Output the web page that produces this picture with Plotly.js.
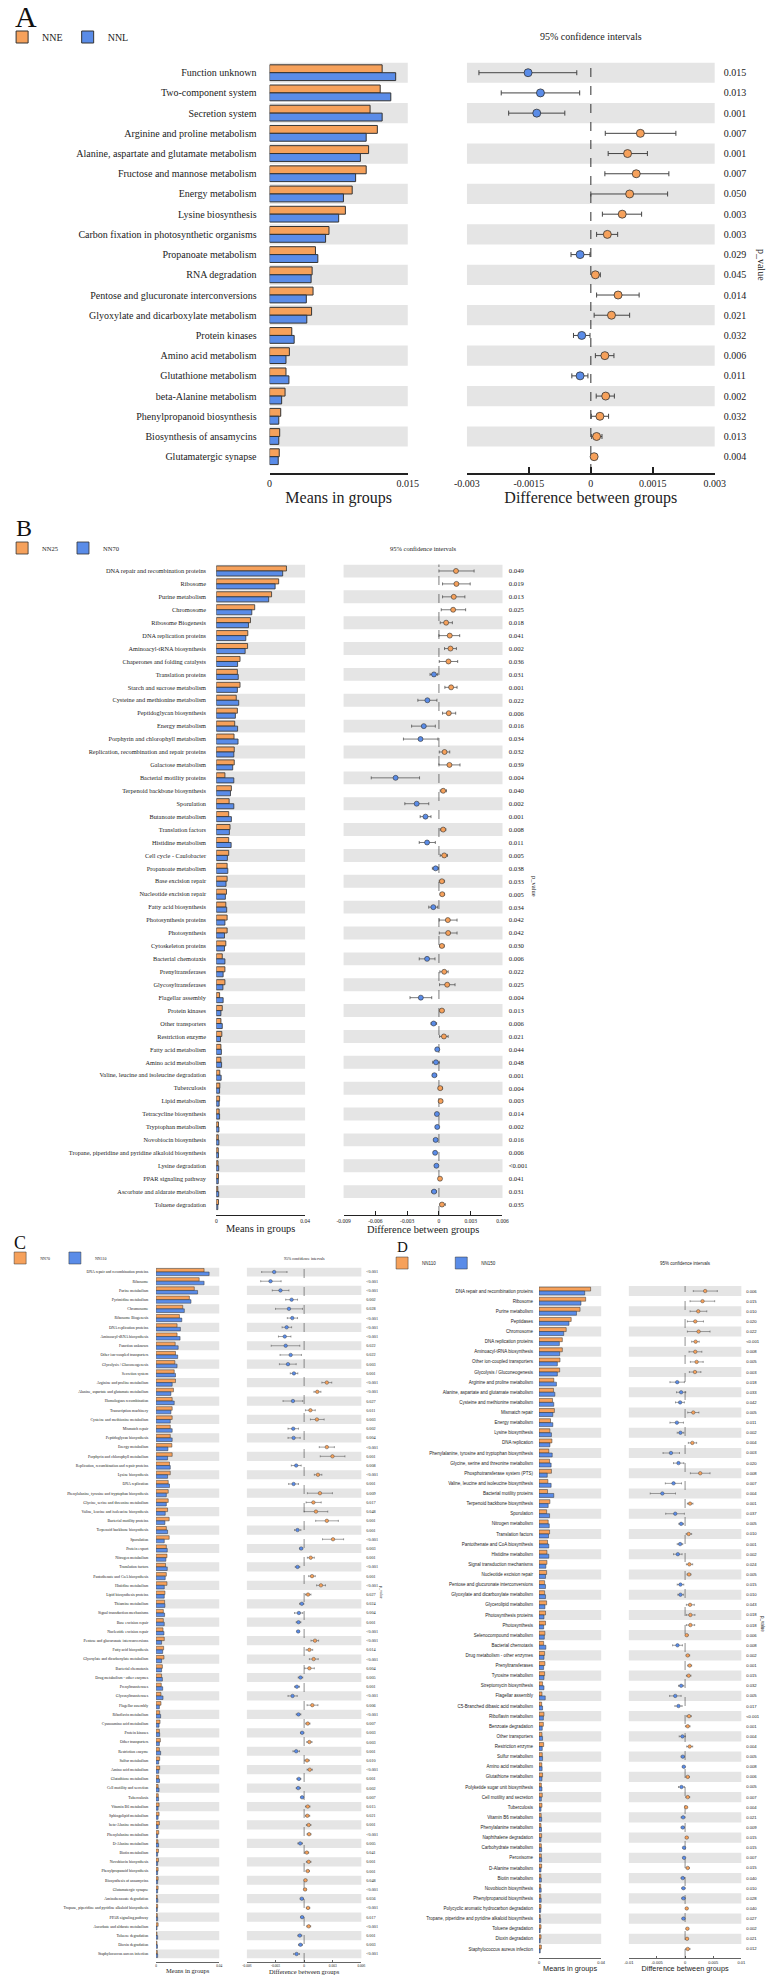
<!DOCTYPE html>
<html><head><meta charset="utf-8">
<script src="https://cdn.plot.ly/plotly-3.0.1.min.js"></script>
<style>html,body{margin:0;padding:0;background:#fff}#chart{width:767px;height:1978px}</style>
</head><body><div id="chart"></div>
<script>
// ---------------- Panel A ----------------
const catA = ["Function unknown","Two-component system","Secretion system","Arginine and proline metabolism","Alanine, aspartate and glutamate metabolism","Fructose and mannose metabolism","Energy metabolism","Lysine biosynthesis","Carbon fixation in photosynthetic organisms","Propanoate metabolism","RNA degradation","Pentose and glucuronate interconversions","Glyoxylate and dicarboxylate metabolism","Protein kinases","Amino acid metabolism","Glutathione metabolism","beta-Alanine metabolism","Phenylpropanoid biosynthesis","Biosynthesis of ansamycins","Glutamatergic synapse"];
const nneA = [0.01222,0.01201,0.01091,0.0117,0.01075,0.01049,0.00897,0.00823,0.00645,0.00498,0.00462,0.00472,0.00456,0.00241,0.00215,0.00178,0.00168,0.00121,0.0011,0.00105];
const nnlA = [0.01369,0.01316,0.01222,0.01049,0.00986,0.00934,0.00802,0.0075,0.00608,0.00524,0.00451,0.00399,0.00404,0.00267,0.00178,0.0021,0.00131,0.001,0.001,0.00094];
const diffA = [-0.00152,-0.00122,-0.00131,0.0012,0.00089,0.0011,0.00094,0.00076,0.0004,-0.00026,0.00011,0.00066,0.0005,-0.00022,0.00034,-0.00026,0.00036,0.00022,0.00014,0.00008];
const loA = [-0.00271,-0.00217,-0.00199,0.00035,0.00042,0.00034,0.0,0.00028,0.00014,-0.00048,0.00004,0.00014,0.00008,-0.00042,0.00011,-0.00046,0.00013,0.00001,0.00002,0.00002];
const hiA = [-0.00034,-0.00027,-0.00063,0.00206,0.00137,0.00189,0.00186,0.00123,0.00065,-0.00002,0.00023,0.00117,0.00094,-0.00002,0.00056,-0.00007,0.00057,0.00043,0.00027,0.00013];
const pA = ["0.015","0.013","0.001","0.007","0.001","0.007","0.050","0.003","0.003","0.029","0.045","0.014","0.021","0.032","0.006","0.011","0.002","0.032","0.013","0.004"];
const barTickValsA = [0, 0.015], barTickTextA = ["0","0.015"];
const ciTickValsA = [-0.003,-0.0015,0,0.0015,0.003], ciTickTextA = ["-0.003","-0.0015","0","0.0015","0.003"];

// ---------------- Panel B ----------------
const catB = ["DNA repair and recombination proteins","Ribosome","Purine metabolism","Chromosome","Ribosome Biogenesis","DNA replication proteins","Aminoacyl-tRNA biosynthesis","Chaperones and folding catalysts","Translation proteins","Starch and sucrose metabolism","Cysteine and methionine metabolism","Peptidoglycan biosynthesis","Energy metabolism","Porphyrin and chlorophyll metabolism","Replication, recombination and repair proteins","Galactose metabolism","Bacterial motility proteins","Terpenoid backbone biosynthesis","Sporulation","Butanoate metabolism","Translation factors","Histidine metabolism","Cell cycle - Caulobacter","Propanoate metabolism","Base excision repair","Nucleotide excision repair","Fatty acid biosynthesis","Photosynthesis proteins","Photosynthesis","Cytoskeleton proteins","Bacterial chemotaxis","Prenyltransferases","Glycosyltransferases","Flagellar assembly","Protein kinases","Other transporters","Restriction enzyme","Fatty acid metabolism","Amino acid metabolism","Valine, leucine and isoleucine degradation","Tuberculosis","Lipid metabolism","Tetracycline biosynthesis","Tryptophan metabolism","Novobiocin biosynthesis","Tropane, piperidine and pyridine alkaloid biosynthesis","Lysine degradation","PPAR signaling pathway","Ascorbate and aldarate metabolism","Toluene degradation"];
const nn25B = [0.0316,0.0281,0.0249,0.0173,0.0154,0.0142,0.0141,0.0107,0.0095,0.0107,0.0090,0.0095,0.0083,0.0080,0.0081,0.0081,0.0039,0.0068,0.0058,0.0056,0.0062,0.0056,0.0056,0.0049,0.0049,0.0046,0.0043,0.0049,0.0049,0.0043,0.0027,0.0039,0.0039,0.0015,0.0027,0.0021,0.0025,0.0021,0.0021,0.0016,0.0016,0.0015,0.0013,0.0010,0.0009,0.0009,0.0008,0.0010,0.0007,0.0010];
const nn70B = [0.0299,0.0265,0.0236,0.0160,0.0145,0.0133,0.0130,0.0096,0.0099,0.0095,0.0101,0.0086,0.0096,0.0098,0.0079,0.0074,0.0079,0.0064,0.0079,0.0068,0.0059,0.0067,0.0050,0.0052,0.0044,0.0041,0.0047,0.0039,0.0037,0.0037,0.0039,0.0031,0.0030,0.0031,0.0021,0.0027,0.0019,0.0023,0.0024,0.0022,0.0015,0.0013,0.0015,0.0012,0.0012,0.0010,0.0011,0.0009,0.0011,0.0007];
const diffB = [0.00161,0.00165,0.0014,0.00134,0.00068,0.00102,0.00109,0.0009,-0.00047,0.00115,-0.00109,0.00093,-0.00143,-0.00174,0.00053,0.00099,-0.00409,0.0004,-0.0021,-0.00127,0.0004,-0.00112,0.0005,-0.00031,0.00028,0.00031,-0.00053,0.00084,0.00087,0.00028,-0.00112,0.0005,0.00078,-0.00171,0.00028,-0.0005,0.00047,-0.00016,-0.00028,-0.00043,0.00012,0.00016,-0.00019,-0.00016,-0.00031,-0.00036,-0.00024,0.0001,-0.00046,0.00029];
const loB = [0.0,0.00034,0.00034,0.00022,0.00012,0.0,0.00053,0.00003,-0.00084,0.00056,-0.00199,0.00034,-0.00258,-0.00335,0.00003,0.0,-0.00639,0.00012,-0.00322,-0.00177,0.00012,-0.00186,0.00012,-0.00062,0.00003,0.00012,-0.00096,0.00003,0.00003,0.00006,-0.00186,0.00009,0.00006,-0.00273,0.00009,-0.00075,0.00006,-0.00031,-0.00059,-0.00062,-0.00006,0.0,-0.00034,-0.00031,-0.00046,-0.00048,-0.00036,0.0,-0.00068,0.0001];
const hiB = [0.00332,0.00295,0.00245,0.00252,0.00127,0.00196,0.00165,0.00177,-0.00012,0.00171,-0.00019,0.00158,-0.00034,-0.00009,0.00102,0.00199,-0.00183,0.00071,-0.00096,-0.00075,0.00065,-0.00034,0.00081,-0.00003,0.00053,0.00053,-0.00012,0.00171,0.00171,0.0005,-0.00037,0.00087,0.00152,-0.00068,0.00047,-0.00022,0.00087,0.0,0.00003,-0.00022,0.00034,0.00034,-0.00003,-0.00003,-0.00014,-0.00024,-0.00012,0.0002,-0.00024,0.0006];
const pB = ["0.049","0.019","0.013","0.025","0.018","0.041","0.002","0.036","0.031","0.001","0.022","0.006","0.016","0.034","0.032","0.039","0.004","0.040","0.002","0.001","0.008","0.011","0.005","0.038","0.033","0.005","0.034","0.042","0.042","0.030","0.006","0.022","0.025","0.004","0.013","0.006","0.021","0.044","0.048","0.001","0.004","0.003","0.014","0.002","0.016","0.006","<0.001","0.041","0.031","0.035"];
const barTickValsB = [0, 0.04], barTickTextB = ["0","0.04"];
const ciTickValsB = [-0.009,-0.006,-0.003,0,0.003,0.006], ciTickTextB = ["-0.009","-0.006","-0.003","0","0.003","0.006"];

// ---------------- Panel C ----------------
const catC = ["DNA repair and recombination proteins","Ribosome","Purine metabolism","Pyrimidine metabolism","Chromosome","Ribosome Biogenesis","DNA replication proteins","Aminoacyl-tRNA biosynthesis","Function unknown","Other ion-coupled transporters","Glycolysis / Gluconeogenesis","Secretion system","Arginine and proline metabolism","Alanine, aspartate and glutamate metabolism","Homologous recombination","Transcription machinery","Cysteine and methionine metabolism","Mismatch repair","Peptidoglycan biosynthesis","Energy metabolism","Porphyrin and chlorophyll metabolism","Replication, recombination and repair proteins","Lysine biosynthesis","DNA replication","Phenylalanine, tyrosine and tryptophan biosynthesis","Glycine, serine and threonine metabolism","Valine, leucine and isoleucine biosynthesis","Bacterial motility proteins","Terpenoid backbone biosynthesis","Sporulation","Protein export","Nitrogen metabolism","Translation factors","Pantothenate and CoA biosynthesis","Histidine metabolism","Lipid biosynthesis proteins","Thiamine metabolism","Signal transduction mechanisms","Base excision repair","Nucleotide excision repair","Pentose and glucuronate interconversions","Fatty acid biosynthesis","Glyoxylate and dicarboxylate metabolism","Bacterial chemotaxis","Drug metabolism - other enzymes","Prenyltransferases","Glycosyltransferases","Flagellar assembly","Riboflavin metabolism","Cyanoamino acid metabolism","Protein kinases","Other transporters","Restriction enzyme","Sulfur metabolism","Amino acid metabolism","Glutathione metabolism","Cell motility and secretion","Tuberculosis","Vitamin B6 metabolism","Sphingolipid metabolism","beta-Alanine metabolism","Phenylalanine metabolism","D-Alanine metabolism","Biotin metabolism","Novobiocin biosynthesis","Phenylpropanoid biosynthesis","Biosynthesis of ansamycins","Glutamatergic synapse","Aminobenzoate degradation","Tropane, piperidine and pyridine alkaloid biosynthesis","PPAR signaling pathway","Ascorbate and aldarate metabolism","Toluene degradation","Dioxin degradation","Staphylococcus aureus infection"];
const nn70C = [0.0304,0.0273,0.0242,0.0211,0.0169,0.0148,0.0133,0.0133,0.0121,0.0123,
 0.0119,0.0115,0.0123,0.0110,0.0102,0.0102,0.0102,0.0090,0.0090,0.0100,
 0.0102,0.0085,0.0090,0.0077,0.0077,0.0077,0.0073,0.0083,0.0065,0.0083,
 0.0065,0.0069,0.0060,0.0065,0.0069,0.0056,0.0054,0.0046,0.0046,0.0044,
 0.0052,0.0048,0.0050,0.0040,0.0035,0.0033,0.0031,0.0031,0.0023,0.0025,
 0.0021,0.0027,0.0021,0.0023,0.0023,0.0017,0.0013,0.0014,0.0019,0.0019,
 0.0021,0.0017,0.0012,0.0015,0.0015,0.0013,0.0013,0.0013,0.0008,0.0010,
 0.0008,0.0013,0.0006,0.0006,0.0008];
const nn110C = [0.0336,0.0304,0.0263,0.0221,0.0179,0.0163,0.0154,0.0152,0.0140,0.0137,
 0.0133,0.0123,0.0102,0.0094,0.0115,0.0094,0.0090,0.0102,0.0102,0.0075,
 0.0073,0.0090,0.0073,0.0085,0.0065,0.0065,0.0058,0.0056,0.0073,0.0052,
 0.0071,0.0062,0.0071,0.0058,0.0052,0.0052,0.0056,0.0054,0.0052,0.0050,
 0.0035,0.0042,0.0035,0.0035,0.0040,0.0042,0.0044,0.0021,0.0029,0.0019,
 0.0023,0.0021,0.0029,0.0017,0.0017,0.0022,0.0019,0.0016,0.0013,0.0013,
 0.0013,0.0010,0.0016,0.0010,0.0010,0.0010,0.0010,0.0010,0.0011,0.0008,
 0.0010,0.0006,0.0010,0.0009,0.0010];
const diffC = [-0.00314,-0.00352,-0.00248,-0.00131,-0.00159,-0.00124,-0.00183,-0.00203,-0.00193,-0.00141,
 -0.00169,-0.00107,0.00238,0.00138,-0.00117,0.00066,0.00134,-0.00114,-0.0011,0.00238,
 0.00297,-0.00083,0.00145,-0.0011,0.00166,0.00097,0.00124,0.00238,-0.00069,0.00303,
 -0.00031,0.00069,-0.00069,0.00083,0.00176,0.00041,-0.00024,-0.00055,-0.00059,-0.00062,
 0.00114,0.00055,0.001,0.00055,-0.00038,-0.00076,-0.00121,0.00086,-0.00059,0.00038,
 -0.00021,0.00055,-0.00083,0.00031,0.00059,-0.00055,-0.00062,-0.00021,0.00038,0.00034,
 0.00048,0.00052,-0.00041,0.00028,0.00048,0.00038,0.00014,0.0001,-0.00024,0.00041,
 -0.00021,0.00048,-0.00045,-0.00038,-0.00079];
const loC = [-0.00445,-0.00455,-0.00334,-0.00193,-0.003,-0.00176,-0.00231,-0.00269,-0.00345,-0.00252,
 -0.00259,-0.00145,0.00186,0.00103,-0.00221,0.00014,0.00066,-0.00169,-0.00169,0.00159,
 0.00169,-0.00134,0.00107,-0.00162,0.00034,0.00021,0.0,0.00121,-0.001,0.00193,
 -0.00048,0.00034,-0.00093,0.00048,0.00131,0.00014,-0.00048,-0.001,-0.00083,-0.00076,
 0.00072,0.00021,0.00055,0.00007,-0.00062,-0.001,-0.00169,0.00031,-0.00083,0.00017,
 -0.00038,0.00028,-0.00117,0.00007,0.00031,-0.00076,-0.00083,-0.00034,0.00014,0.00014,
 0.00024,0.00031,-0.00066,0.00007,0.00024,0.00021,0.0,0.0,-0.00041,0.00024,
 -0.00034,0.00028,-0.00066,-0.00059,-0.0011];
const hiC = [-0.00179,-0.00241,-0.00159,-0.00069,-0.00017,-0.00069,-0.00131,-0.00138,-0.00045,-0.00028,
 -0.00083,-0.00066,0.0029,0.00176,-0.00014,0.00117,0.0021,-0.00059,-0.00041,0.00317,
 0.00428,-0.00031,0.00186,-0.00059,0.00297,0.00179,0.00248,0.00359,-0.00034,0.00414,
 -0.00014,0.00107,-0.00045,0.00117,0.00224,0.00072,-0.00003,-0.00014,-0.00034,-0.00048,
 0.00152,0.0009,0.00148,0.00107,-0.00014,-0.00048,-0.00072,0.00145,-0.00034,0.00062,
 -0.00003,0.00083,-0.00048,0.00055,0.00086,-0.00034,-0.00038,-0.00007,0.00062,0.00059,
 0.00072,0.00072,-0.00017,0.00048,0.00072,0.00055,0.00028,0.00024,-0.00007,0.00059,
 -0.00007,0.00069,-0.00024,-0.00017,-0.00048];
const pC = ["<0.001","<0.001","<0.001","0.002","0.028","<0.001","<0.001","<0.001","0.022","0.022",
 "0.003","0.001","<0.001","<0.001","0.027","0.011","0.003","0.002","0.004","<0.001",
 "0.001","0.008","<0.001","0.001","0.009","0.017","0.048","0.001","0.001","<0.001",
 "0.003","0.001","<0.001","0.001","<0.001","0.027","0.024","0.004","0.001","<0.001",
 "<0.001","0.014","<0.001","0.004","0.005","0.001","<0.001","0.006","<0.001","0.007",
 "0.003","0.003","0.001","0.010","<0.001","0.001","0.002","0.007","0.015","0.021",
 "0.001","<0.001","0.005","0.041","0.001","0.001","0.048","<0.001","0.056","<0.001",
 "0.017","<0.001","0.001","0.003","<0.001"];
const barTickValsC = [0, 0.04], barTickTextC = ["0","0.04"];
const ciTickValsC = [-0.006,-0.003,0,0.003,0.006], ciTickTextC = ["-0.006","-0.003","0","0.003","0.006"];

// ---------------- Panel D ----------------
const catD = ["DNA repair and recombination proteins","Ribosome","Purine metabolism","Peptidases","Chromosome","DNA replication proteins","Aminoacyl-tRNA biosynthesis","Other ion-coupled transporters","Glycolysis / Gluconeogenesis","Arginine and proline metabolism","Alanine, aspartate and glutamate metabolism","Cysteine and methionine metabolism","Mismatch repair","Energy metabolism","Lysine biosynthesis","DNA replication","Phenylalanine, tyrosine and tryptophan biosynthesis","Glycine, serine and threonine metabolism","Phosphotransferase system (PTS)","Valine, leucine and isoleucine biosynthesis","Bacterial motility proteins","Terpenoid backbone biosynthesis","Sporulation","Nitrogen metabolism","Translation factors","Pantothenate and CoA biosynthesis","Histidine metabolism","Signal transduction mechanisms","Nucleotide excision repair","Pentose and glucuronate interconversions","Glyoxylate and dicarboxylate metabolism","Glycerolipid metabolism","Photosynthesis proteins","Photosynthesis","Selenocompound metabolism","Bacterial chemotaxis","Drug metabolism - other enzymes","Prenyltransferases","Tyrosine metabolism","Streptomycin biosynthesis","Flagellar assembly","C5-Branched dibasic acid metabolism","Riboflavin metabolism","Benzoate degradation","Other transporters","Restriction enzyme","Sulfur metabolism","Amino acid metabolism","Glutathione metabolism","Polyketide sugar unit biosynthesis","Cell motility and secretion","Tuberculosis","Vitamin B6 metabolism","Phenylalanine metabolism","Naphthalene degradation","Carbohydrate metabolism","Peroxisome","D-Alanine metabolism","Biotin metabolism","Novobiocin biosynthesis","Phenylpropanoid biosynthesis","Polycyclic aromatic hydrocarbon degradation","Tropane, piperidine and pyridine alkaloid biosynthesis","Toluene degradation","Dioxin degradation","Staphylococcus aureus infection"];
const nn110D = [0.0332,0.0300,0.0264,0.0207,0.0175,0.0150,0.0150,0.0135,0.0133,0.0095,
 0.0093,0.0087,0.0099,0.0074,0.0070,0.0083,0.0063,0.0068,0.0080,0.0057,
 0.0055,0.0070,0.0049,0.0059,0.0068,0.0055,0.0051,0.0051,0.0049,0.0036,
 0.0036,0.0049,0.0042,0.0042,0.0038,0.0030,0.0036,0.0038,0.0036,0.0023,
 0.0019,0.0017,0.0032,0.0028,0.0019,0.0030,0.0021,0.0018,0.0023,0.0015,
 0.0021,0.0019,0.0014,0.0013,0.0017,0.0015,0.0015,0.0017,0.0012,0.0011,
 0.0011,0.0013,0.0008,0.0013,0.0013,0.0015];
const nn150D = [0.0294,0.0270,0.0241,0.0193,0.0159,0.0131,0.0133,0.0118,0.0118,0.0112,
 0.0102,0.0095,0.0089,0.0089,0.0080,0.0070,0.0085,0.0078,0.0053,0.0078,
 0.0095,0.0059,0.0068,0.0066,0.0061,0.0063,0.0063,0.0044,0.0042,0.0042,
 0.0042,0.0038,0.0032,0.0030,0.0034,0.0044,0.0032,0.0030,0.0032,0.0032,
 0.0040,0.0023,0.0028,0.0021,0.0023,0.0021,0.0023,0.0020,0.0019,0.0019,
 0.0015,0.0013,0.0017,0.0016,0.0013,0.0017,0.0017,0.0013,0.0015,0.0014,
 0.0014,0.0011,0.0011,0.0008,0.0008,0.0008];
const diffD = [0.00357,0.0031,0.00234,0.00181,0.0024,0.00187,0.00181,0.00205,0.00175,-0.0014,
 -0.0007,-0.00088,0.00146,-0.00146,-0.00082,0.00129,-0.00251,-0.00117,0.00269,-0.00205,
 -0.00404,0.00088,-0.00175,-0.0007,0.00064,-0.00088,-0.00129,0.00076,0.0007,-0.00082,
 -0.00082,0.00088,0.00094,0.00094,0.00029,-0.00135,0.00047,0.00082,0.00064,-0.0007,
 -0.00175,-0.00117,0.0007,0.00047,-0.00047,0.00082,-0.00041,-0.00023,0.00047,-0.00064,
 0.00047,0.00018,-0.00035,-0.00041,0.00029,-0.00018,-0.00018,0.00047,-0.00041,-0.00029,
 -0.00029,0.00029,-0.00029,0.00041,0.00035,0.00047];
const loD = [0.00146,0.00088,0.00088,0.00041,0.00041,0.00117,0.0007,0.00094,0.00076,-0.00269,
 -0.00152,-0.0017,0.00047,-0.00269,-0.0014,0.00058,-0.00392,-0.00205,0.00094,-0.00351,
 -0.0062,0.00041,-0.00345,-0.00111,0.00018,-0.0014,-0.00205,0.00023,0.00035,-0.0014,
 -0.00129,0.00023,0.00023,0.00023,0.00006,-0.00222,0.00018,0.00047,0.00023,-0.00117,
 -0.00275,-0.00181,0.00029,0.00006,-0.00105,0.00029,-0.0007,-0.00047,0.00018,-0.00117,
 0.00012,0.0,-0.0007,-0.0007,0.00006,-0.00035,-0.00035,0.00018,-0.0007,-0.00058,
 -0.00058,0.00012,-0.00053,0.00018,0.00018,0.00012];
const hiD = [0.00573,0.00526,0.00386,0.00327,0.00444,0.00251,0.00298,0.00322,0.00281,-0.00012,
 0.00012,-0.00012,0.00246,-0.00029,-0.00023,0.00205,-0.00099,-0.00023,0.00444,-0.00064,
 -0.0017,0.0014,-0.00012,-0.00029,0.00117,-0.00041,-0.00053,0.00135,0.00105,-0.00023,
 -0.00029,0.00164,0.00175,0.0017,0.00053,-0.00047,0.00082,0.00117,0.00105,-0.00023,
 -0.0007,-0.00053,0.00111,0.00088,0.00006,0.00135,-0.00012,0.0,0.00076,-0.00012,
 0.00082,0.00035,0.0,-0.00012,0.00053,0.0,0.0,0.00076,-0.00012,0.0,
 0.0,0.00047,-0.00006,0.00064,0.00053,0.00088];
const pD = ["0.006","0.015","0.010","0.020","0.022","<0.001","0.008","0.005","0.003","0.018",
 "0.033","0.042","0.005","0.011","0.002","0.004","0.003","0.020","0.008","0.007",
 "0.004","0.001","0.037","0.005","0.010","0.001","0.002","0.024","0.005","0.015",
 "0.010","0.043","0.018","0.018","0.006","0.008","0.002","0.001","0.015","0.032",
 "0.005","0.017","<0.001","0.001","0.004","0.004","0.005","0.008","0.006","0.005",
 "0.007","0.004","0.021","0.009","0.015","0.015","0.007","0.015","0.040","0.010",
 "0.028","0.040","0.027","0.002","0.021","0.012"];
const barTickValsD = [0, 0.04], barTickTextD = ["0","0.04"];
const ciTickValsD = [-0.01,-0.005,0,0.005,0.01], ciTickTextD = ["-0.01","-0.005","0","0.005","0.01"];

// ---------------- drawing ----------------
const W = 767, H = 1978;
const ORANGE = '#F6A15B', BLUE = '#5A8CE8', EDGE = '#333333', STRIPE = '#E5E5E5', INK = '#222222';
const SERIF = '"Liberation Serif","Times New Roman",serif';
const SANS = '"Liberation Sans",Arial,sans-serif';

const panels = [
 {letter:'A', cats:catA, v1:nneA, v2:nnlA, names:['NNE','NNL'], diff:diffA, lo:loA, hi:hiA, p:pA,
  barTV:barTickValsA, barTT:barTickTextA, ciTV:ciTickValsA, ciTT:ciTickTextA, barRange:[0,0.015], ciRange:[-0.003,0.003],
  g:{barX:[263,403], ciX:[463,714], top:62.6, bottom:466.8, axisY:473, font:SERIF, lab:10, pv:10, tick:10, title:16, ci:10, leg:10,
     legX:-8, legY:37, letterX:3, letterY:16, letterSize:30, pvX:762, pvY:265, pvSize:10, mk:8, ml:0.8, eb:1, ebw:2.5, bl:1, axW:1.6, tl:6, lstand:10, pstand:6, tstand:4}},
 {letter:'B', cats:catB, v1:nn25B, v2:nn70B, names:['NN25','NN70'], diff:diffB, lo:loB, hi:hiB, p:pB,
  barTV:barTickValsB, barTT:barTickTextB, ciTV:ciTickValsB, ciTT:ciTickTextB, barRange:[0,0.04], ciRange:[-0.009,0.006],
  g:{barX:[209,299], ciX:[338,499], top:564.5, bottom:1211, axisY:1215, font:SERIF, lab:6.3, pv:6.7, tick:5.5, title:10.4, ci:6.5, leg:6.5,
     legX:-8, legY:548, letterX:4, letterY:528, letterSize:24, pvX:532, pvY:886, pvSize:6.5, mk:5, ml:0.6, eb:0.7, ebw:1.5, bl:0.8, axW:1, tl:4, lstand:8, pstand:4, tstand:2}},
 {letter:'C', cats:catC, v1:nn70C, v2:nn110C, names:['NN70','NN110'], diff:diffC, lo:loC, hi:hiC, p:pC,
  barTV:barTickValsC, barTT:barTickTextC, ciTV:ciTickValsC, ciTT:ciTickTextC, barRange:[0,0.04], ciRange:[-0.006,0.006],
  g:{barX:[148,212], ciX:[240,356], top:1267.4, bottom:1958.6, axisY:1962, font:SERIF, lab:3.9, pv:4.2, tick:3.5, title:6.5, ci:4, leg:4,
     legX:-10, legY:1258, letterX:2, letterY:1243, letterSize:18, pvX:377, pvY:1592, pvSize:4, mk:3.5, ml:0.4, eb:0.5, ebw:1, bl:0.5, axW:0.7, tl:2.5, lstand:6, pstand:3, tstand:1}},
 {letter:'D', cats:catD, v1:nn110D, v2:nn150D, names:['NN110','NN150'], diff:diffD, lo:loD, hi:hiD, p:pD,
  barTV:barTickValsD, barTT:barTickTextD, ciTV:ciTickValsD, ciTT:ciTickTextD, barRange:[0,0.04], ciRange:[-0.01,0.01],
  g:{barX:[536,599], ciX:[627,741], top:1286, bottom:1954, axisY:1958, font:SANS, lab:4.5, pv:4.2, tick:4, title:7.3, ci:4.5, leg:4.5,
     legX:377, legY:1263, letterX:390, letterY:1247, letterSize:15, pvX:763, pvY:1624, pvSize:4.5, mk:3.5, ml:0.4, eb:0.5, ebw:1, bl:0.5, axW:0.7, tl:2.5, lstand:4, pstand:3, tstand:1}}
];

const traces = [], shapes = [], annotations = [];
const layout = {
  width: W, height: H, margin:{l:0,r:0,t:0,b:0,pad:0},
  paper_bgcolor:'#ffffff', plot_bgcolor:'rgba(0,0,0,0)',
  barmode:'group', bargap:0.22, bargroupgap:0, hovermode:false,
  shapes: shapes, annotations: annotations
};
const key = i => (i === 1 ? '' : String(i));

panels.forEach((P, k) => {
  const g = P.g, n = P.cats.length;
  const bi = 2*k + 1, ci = 2*k + 2;
  const bx = 'x' + key(bi), by = 'y' + key(bi), cx = 'x' + key(ci), cy = 'y' + key(ci);
  const yDom = [1 - g.bottom / H, 1 - g.top / H];
  const axisPos = 1 - g.axisY / H;
  const legKey = k === 0 ? 'legend' : 'legend' + (k + 1);
  const tf = (s) => ({family: g.font, size: s, color: INK});

  const xCommon = {anchor:'free', position:axisPos, showgrid:false, zeroline:false, showline:true,
    linecolor:INK, linewidth:g.axW, ticks:'inside', ticklen:g.tl, tickwidth:g.axW, tickcolor:INK,
    tickmode:'array', tickfont:tf(g.tick), automargin:false, fixedrange:true};
  layout['xaxis' + key(bi)] = Object.assign({}, xCommon, {domain:[g.barX[0]/W, g.barX[1]/W], range:P.barRange,
    tickvals:P.barTV, ticktext:P.barTT, title:{text:'Means in groups', font:tf(g.title), standoff:g.tstand}});
  layout['xaxis' + key(ci)] = Object.assign({}, xCommon, {domain:[g.ciX[0]/W, g.ciX[1]/W], range:P.ciRange,
    tickvals:P.ciTV, ticktext:P.ciTT, title:{text:'Difference between groups', font:tf(g.title), standoff:g.tstand}});
  const yCommon = {domain:yDom, type:'category', range:[n - 0.5, -0.5], showgrid:false, zeroline:false, showline:false,
    ticks:'outside', tickcolor:'rgba(0,0,0,0)', tickmode:'array', tickvals:P.cats, automargin:false, fixedrange:true};
  layout['yaxis' + key(bi)] = Object.assign({}, yCommon, {anchor:bx, side:'left', ticktext:P.cats, ticklen:g.lstand, tickfont:tf(g.lab)});
  layout['yaxis' + key(ci)] = Object.assign({}, yCommon, {anchor:cx, side:'right', ticktext:P.p, ticklen:g.pstand, tickfont:tf(g.pv)});

  for (let i = 0; i < n; i += 2) {
    [[bx, by], [cx, cy]].forEach(([xr, yr]) => shapes.push({type:'rect', layer:'below', xref:xr + ' domain', x0:0, x1:1,
      yref:yr, y0:i - 0.5, y1:i + 0.5, fillcolor:STRIPE, line:{width:0}}));
  }
  const ext = (g.axisY - g.bottom) / (g.bottom - g.top);
  shapes.push({type:'line', layer:'below', xref:cx, x0:0, x1:0, yref:cy + ' domain', y0:-ext, y1:1,
    line:{color:'#444', width:Math.max(0.6, g.axW*0.7), dash:'dash'}});

  traces.push({type:'bar', orientation:'h', x:P.v1, y:P.cats, xaxis:bx, yaxis:by, name:P.names[0], legend:legKey,
    marker:{color:ORANGE, line:{color:EDGE, width:g.bl}}});
  traces.push({type:'bar', orientation:'h', x:P.v2, y:P.cats, xaxis:bx, yaxis:by, name:P.names[1], legend:legKey,
    marker:{color:BLUE, line:{color:EDGE, width:g.bl}}});
  traces.push({type:'scatter', mode:'markers', x:P.diff, y:P.cats, xaxis:cx, yaxis:cy, showlegend:false,
    marker:{size:g.mk, color:P.diff.map(d => d > 0 ? ORANGE : BLUE), line:{color:EDGE, width:g.ml}},
    error_x:{type:'data', symmetric:false, array:P.hi.map((h, i) => Math.max(0, h - P.diff[i])),
      arrayminus:P.diff.map((d, i) => Math.max(0, d - P.lo[i])), color:'#444', thickness:g.eb, width:g.ebw}});

  layout[legKey] = {x:g.legX / W, y:1 - g.legY / H, xanchor:'left', yanchor:'middle', orientation:'h',
    font:tf(g.leg), bgcolor:'rgba(0,0,0,0)', borderwidth:0, traceorder:'normal', itemwidth:30};

  annotations.push({xref:'paper', yref:'paper', x:g.letterX / W, y:1 - g.letterY / H, xanchor:'left', yanchor:'middle',
    text:P.letter, showarrow:false, font:{family:SERIF, size:g.letterSize, color:'#111'}});
  annotations.push({xref:'paper', yref:'paper', x:(g.ciX[0] + g.ciX[1]) / 2 / W, y:1 - g.legY / H, xanchor:'center', yanchor:'middle',
    text:'95% confidence intervals', showarrow:false, font:tf(g.ci)});
  annotations.push({xref:'paper', yref:'paper', x:g.pvX / W, y:1 - g.pvY / H, xanchor:'center', yanchor:'middle',
    text:'p_value', textangle:90, showarrow:false, font:tf(g.pvSize)});
});

Plotly.newPlot('chart', traces, layout, {displayModeBar:false, staticPlot:true});
</script>
</body></html>
